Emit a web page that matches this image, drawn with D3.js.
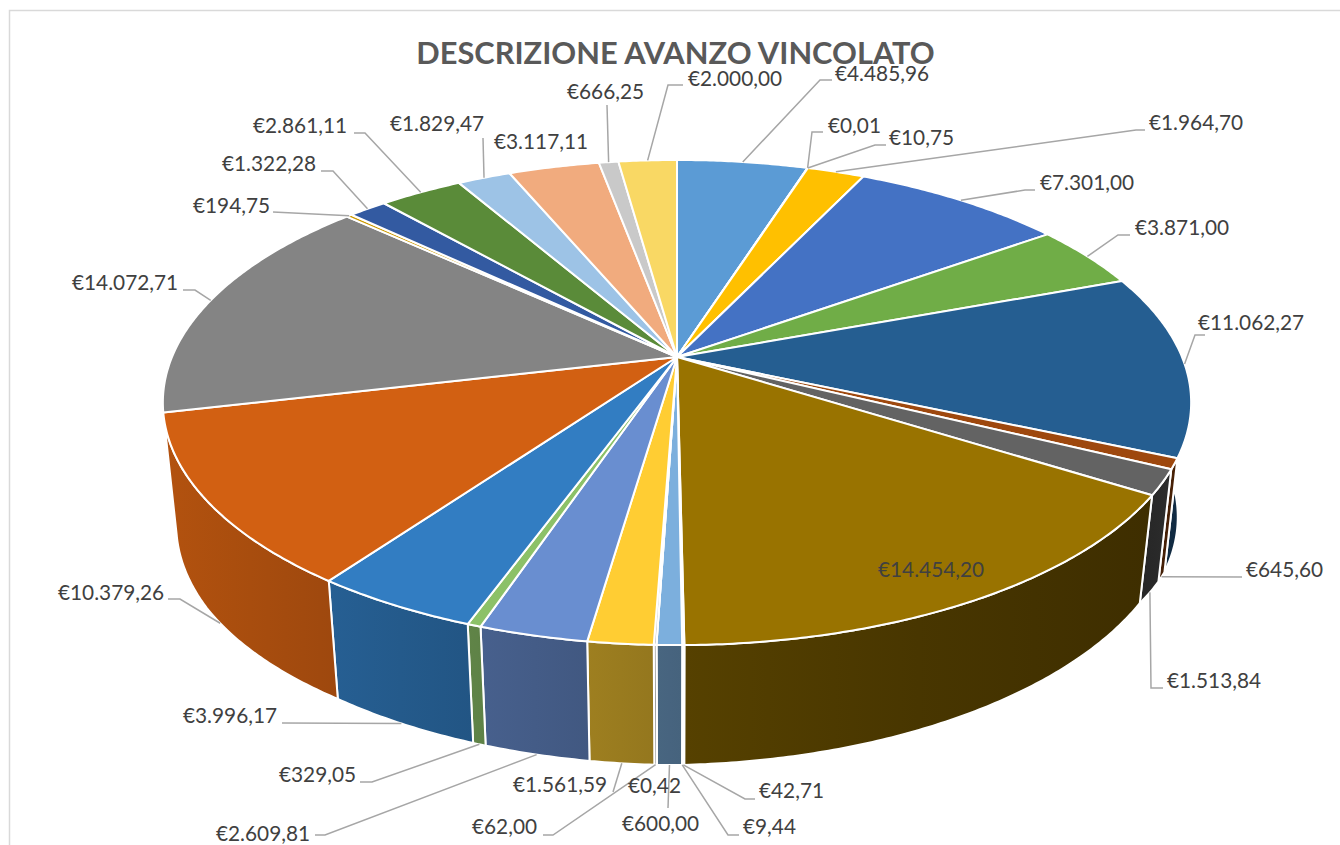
<!DOCTYPE html>
<html><head><meta charset="utf-8">
<script src="https://cdn.jsdelivr.net/npm/d3@7"></script>
<style>html,body{margin:0;padding:0;background:#fff;overflow:hidden}svg{display:block}text{font-family:Lato,"Open Sans",sans-serif}</style>
</head><body><div id="chart"></div>
<script>
const titleText = "DESCRIZIONE AVANZO VINCOLATO";
const values = [4485.96,0.01,10.75,1964.70,7301.00,3871.00,11062.27,645.60,1513.84,14454.20,42.71,9.44,600.00,0.42,62.00,1561.59,2609.81,329.05,3996.17,10379.26,14072.71,194.75,1322.28,2861.11,1829.47,3117.11,666.25,2000.00];
const labels = ["€4.485,96","€0,01","€10,75","€1.964,70","€7.301,00","€3.871,00","€11.062,27","€645,60","€1.513,84","€14.454,20","€42,71","€9,44","€600,00","€0,42","€62,00","€1.561,59","€2.609,81","€329,05","€3.996,17","€10.379,26","€14.072,71","€194,75","€1.322,28","€2.861,11","€1.829,47","€3.117,11","€666,25","€2.000,00"];
const colors = ["#5B9BD5","#ED7D31","#A5A5A5","#FFC000","#4472C4","#70AD47","#255E91","#9E480E","#636363","#997300","#264478","#43682B","#7CAFDD","#F1975A","#B7B7B7","#FFCD33","#698ED0","#8CC168","#327DC2","#D26012","#848484","#CC9A00","#335AA1","#5A8B39","#9DC3E6","#F1AB7E","#C9C9C9","#F9D864"];

// Label layout, by slice index: text left x, text centre y, then leader waypoints after the rim anchor.
const labelLayout = [
 [835,74,[[820,80],[832,80]]],
 [828,126,[[812,132],[823,132]]],
 [889,138,[[875,145],[886,145]]],
 [1149,123,[[1136,130],[1145,130]]],
 [1040,183,[[1025,190],[1035,190]]],
 [1135,228,[[1118,235],[1130,235]]],
 [1198,323,[[1195,335],[1205,335]]],
 [1246,570,[[1242,577]]],
 [1167,681,[[1151,688],[1163,688]]],
 [878,570,null],
 [759,791,[[745,799],[755,799]]],
 [743,827,[[728,835],[739,835]]],
 [622,824,[[668,808]]],
 [628,786,null],
 [472,827,[[553,835],[543,835]]],
 [513,785,[[613,792]]],
 [216,834,[[325,835],[315,835]]],
 [279,775,[[372,782],[360,782]]],
 [183,716,[[282,723]]],
 [58,593,[[180,599],[168,599]]],
 [72,283,[[195,290],[183,290]]],
 [193,206,[[273,212]]],
 [222,164,[[333,171],[321,171]]],
 [253,126,[[365,133],[354,133]]],
 [390,124,[[483,138]]],
 [494,142,null],
 [567,92,[[607,105]]],
 [688,79,[[668,85],[683,85]]]
];

const W = 1340, H = 845;
const cx = 677, cy = 357, R = 505, S = 234, p = 0.1877;
const DEG = Math.PI/180;
const svg = d3.select("#chart").append("svg").attr("width", W).attr("height", H);
const defs = svg.append("defs");

// perspective projection of the pie plane
function topPt(a){ const u = Math.sin(a), v = -Math.cos(a), w = 1 - p*v; return [cx + R*u/w, cy + S*v/w]; }
const depth = d3.scaleLinear().domain([60,113.6,122,180,216,240,270,300]).range([116,114,108,120,118,122,122,122]);
function botPt(a){ const t = topPt(a); return [cx + (t[0]-cx)*0.974, t[1] + depth(a/DEG)]; }
const shade = d3.scaleLinear().domain([165,340,590,690,1140,1160,1190]).range([.85,.75,.62,.56,.38,.42,.5]).clamp(true);
function darker(c, k){ const r = d3.rgb(c); return d3.rgb(r.r*k, r.g*k, r.b*k).formatHex(); }

svg.append("rect").attr("x",9.5).attr("y",10.5).attr("width",W+20).attr("height",H+20).attr("fill","#fff").attr("stroke","#D9D9D9").attr("stroke-width",1.5);

const pie = d3.pie().sort(null).value(d=>d)(values);
const line = d3.line();
const wallFrom = 60*DEG, wallTo = pie[19].endAngle;
const samples = (a0,a1)=>{ const n = Math.max(2, Math.ceil((a1-a0)/(0.5*DEG))); return d3.range(n+1).map(i=>a0+(a1-a0)*i/n); };

// side walls
const walls = svg.append("g");
pie.forEach((d,i)=>{
  const a0 = Math.max(d.startAngle, wallFrom), a1 = Math.min(d.endAngle, wallTo);
  if (a1 <= a0) return;
  const as = samples(a0,a1);
  const tp = as.map(topPt), bp = as.map(botPt).reverse();
  const x0 = d3.min(tp.concat(bp),q=>q[0]), x1 = d3.max(tp.concat(bp),q=>q[0]);
  const g = defs.append("linearGradient").attr("id","w"+i).attr("gradientUnits","userSpaceOnUse").attr("x1",x0).attr("x2",x1).attr("y1",0).attr("y2",0);
  [0,.5,1].forEach(t=>{ g.append("stop").attr("offset",t).attr("stop-color",darker(colors[i],shade(x0+(x1-x0)*t))); });
  walls.append("path").attr("d",line(tp.concat(bp))+"Z").attr("fill",`url(#w${i})`).attr("stroke","#fff").attr("stroke-width",2).attr("stroke-linejoin","round");
});

// top face
const face = svg.append("g");
pie.forEach((d,i)=>{
  const pts = [[cx,cy]].concat(samples(d.startAngle,d.endAngle).map(topPt));
  face.append("path").attr("d",line(pts)+"Z").attr("fill",colors[i]).attr("stroke","#fff").attr("stroke-width",2).attr("stroke-linejoin","round");
});

// leaders
const leaders = svg.append("g").attr("fill","none").attr("stroke","#A6A6A6").attr("stroke-width",1.5);
pie.forEach((d,i)=>{
  const way = labelLayout[i][2]; if (!way) return;
  const mid = (d.startAngle+d.endAngle)/2;
  const anchor = (mid > 100*DEG && mid < 280*DEG) ? botPt(mid) : topPt(mid);
  leaders.append("path").attr("d",line([anchor].concat(way)));
});

// labels
svg.append("g").selectAll("text").data(labels).join("text")
  .attr("x",(d,i)=>labelLayout[i][0]).attr("y",(d,i)=>labelLayout[i][1]-1.5)
  .attr("dominant-baseline","central").attr("font-size",20.8).attr("fill","#404040").text(d=>d);

svg.append("text").attr("x",675.5).attr("y",52).attr("text-anchor","middle").attr("dominant-baseline","central")
  .attr("font-size",30.8).attr("font-weight",700).attr("fill","#595959").text(titleText);
</script></body></html>
